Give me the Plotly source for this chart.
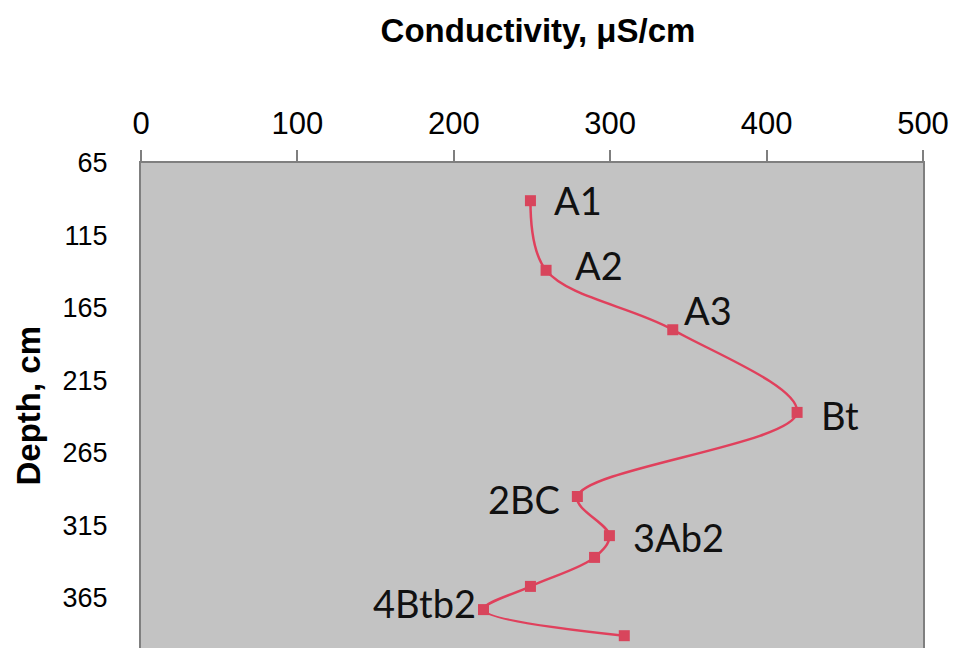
import plotly.graph_objects as go

# Data
conductivity = [249, 259, 340, 419.5, 279, 299.5, 290, 249, 219, 309]
depth = [91, 139, 180, 237, 295, 322, 337, 357, 373, 391]
horizons = ["A1", "A2", "A3", "Bt", "2BC", "3Ab2", "", "", "4Btb2", ""]
x_ticks = [0, 100, 200, 300, 400, 500]
y_ticks = [65, 115, 165, 215, 265, 315, 365]

# label placement (pixel offsets, anchor)
label_place = {
    "A1": (22, 1, "left"),
    "A2": (27, 5, "left"),
    "A3": (9, 20, "left"),
    "Bt": (22, -3, "left"),
    "2BC": (-15, -2, "right"),
    "3Ab2": (22, -1, "left"),
    "4Btb2": (-6, 7, "right"),
}

fig = go.Figure()
fig.add_trace(go.Scatter(
    x=conductivity, y=depth, mode="lines+markers",
    line=dict(color="#E0405C", width=2.5, shape="spline", smoothing=1.0),
    marker=dict(symbol="square", size=11, color="#D8455C"),
    hoverinfo="x+y", showlegend=False,
))

for xv, yv, lab in zip(conductivity, depth, horizons):
    if not lab:
        continue
    dx, dy, anc = label_place[lab]
    fig.add_annotation(
        x=xv, y=yv, xref="x", yref="y", text=lab, showarrow=False,
        xanchor=anc, yanchor="middle", xshift=dx, yshift=dy,
        font=dict(family="Lato, Open Sans, sans-serif", size=38, color="#111111"),
    )

fig.add_annotation(
    xref="paper", yref="paper", x=-0.1445, y=0.5, text="<b>Depth, cm</b>",
    textangle=-90, showarrow=False, xanchor="center", yanchor="middle",
    font=dict(family="Liberation Sans, Arial, sans-serif", size=33, color="#000000"),
)

fig.update_layout(
    width=955, height=648,
    margin=dict(l=141, r=32, t=163, b=0, pad=0, autoexpand=False),
    paper_bgcolor="white", plot_bgcolor="#C3C3C3",
    title=dict(
        text="<b>Conductivity, μS/cm</b>", x=(538 - 141) / 782, xref="paper", xanchor="center",
        y=1 - 30 / 648, yref="container", yanchor="middle", automargin=False,
        font=dict(family="Liberation Sans, Arial, sans-serif", size=33, color="#000000"),
    ),
    font=dict(family="Liberation Sans, Arial, sans-serif", color="#000000"),
)

fig.update_xaxes(
    side="top", range=[0, 500], tickvals=x_ticks, ticktext=[str(v) for v in x_ticks],
    showgrid=False, zeroline=False, showline=True, linecolor="#7F7F7F", linewidth=2,
    mirror=True, ticks="outside", ticklen=11, tickwidth=1.5, tickcolor="#7F7F7F",
    tickfont=dict(size=31, family="Liberation Sans, Arial, sans-serif"),
    ticklabelstandoff=4, automargin=False,
)
fig.update_yaxes(
    range=[65 + (648 - 163) / 1.45, 65], tickvals=y_ticks,
    ticktext=[str(v) for v in y_ticks],
    showgrid=False, zeroline=False, showline=True, linecolor="#7F7F7F", linewidth=2,
    mirror=True, ticks="",
    tickfont=dict(size=27, family="Liberation Sans, Arial, sans-serif"),
    ticklabelstandoff=26, automargin=False,
)

fig.write_html("out.html", config={"displayModeBar": False},
               post_script="document.body.style.margin='0';")
